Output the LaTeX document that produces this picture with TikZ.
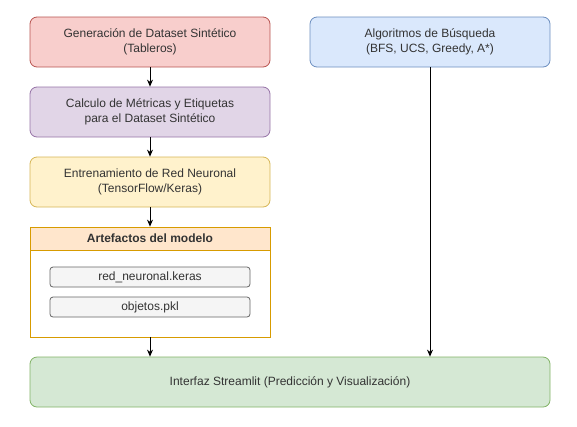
\documentclass[tikz,border=0pt]{standalone}
\usepackage{fontspec}
\setmainfont{Liberation Sans}
\usetikzlibrary{arrows.meta}

\definecolor{redfill}{HTML}{F8CECC}
\definecolor{redline}{HTML}{B85450}
\definecolor{purplefill}{HTML}{E1D5E7}
\definecolor{purpleline}{HTML}{9673A6}
\definecolor{yellowfill}{HTML}{FFF2CC}
\definecolor{yellowline}{HTML}{D6B656}
\definecolor{orangefill}{HTML}{FFE6CC}
\definecolor{orangeline}{HTML}{D79B00}
\definecolor{bluefill}{HTML}{DAE8FC}
\definecolor{blueline}{HTML}{6C8EBF}
\definecolor{greenfill}{HTML}{D5E8D4}
\definecolor{greenline}{HTML}{82B366}
\definecolor{greyfill}{HTML}{F5F5F5}
\definecolor{greyline}{HTML}{666666}
\definecolor{textgrey}{HTML}{333333}

\tikzset{
    stage/.style={draw, line width=0.8pt, rounded corners=7pt, minimum width=240pt,
        minimum height=50pt, align=center, text=textgrey, font=\fontsize{12}{14.5}\selectfont},
    artefact/.style={draw=greyline, fill=greyfill, line width=0.8pt, rounded corners=3pt,
        minimum width=200pt, minimum height=20pt, text=textgrey, font=\fontsize{12}{14}\selectfont},
    flow/.style={-{Stealth[length=7pt,width=6pt]}, line width=0.8pt}
}

\begin{document}
\begin{tikzpicture}[x=1pt,y=-1pt]
    \useasboundingbox (0,0) rectangle (577,426);
    \node[stage, fill=redfill, draw=redline] (gen) at (150,42) {Generación de Dataset Sintético\\(Tableros)};
    \node[stage, fill=purplefill, draw=purpleline] (metr) at (150,112) {Calculo de Métricas y Etiquetas\\para el Dataset Sintético};
    \node[stage, fill=yellowfill, draw=yellowline] (train) at (150,182) {Entrenamiento de Red Neuronal\\(TensorFlow/Keras)};
    \node[stage, fill=bluefill, draw=blueline] (search) at (430,42) {Algoritmos de Búsqueda\\(BFS, UCS, Greedy, A*)};
    \node[stage, fill=greenfill, draw=greenline, minimum width=520pt] (app) at (290,382) {Interfaz Streamlit (Predicción y Visualización)};
    % artefactos
    \node[draw=orangeline, fill=white, line width=0.8pt, minimum width=240pt, minimum height=110pt] (arts) at (150,282) {};
    \node[draw=orangeline, fill=orangefill, line width=0.8pt, minimum width=240pt, minimum height=23pt,
        text=textgrey, font=\fontsize{12}{14}\selectfont\bfseries] (artshead) at (150,238.5) {Artefactos del modelo};
    \node[artefact] (keras) at (150,277) {red\_neuronal.keras};
    \node[artefact] (pkl) at (150,307) {objetos.pkl};
    \draw[flow] (gen) -- (metr);
    \draw[flow] (metr) -- (train);
    \draw[flow] (train) -- (artshead);
    \draw[flow] (arts) -- (app.north -| arts.south);
    \draw[flow] (search) -- (search.south |- app.north);
\end{tikzpicture}
\end{document}
